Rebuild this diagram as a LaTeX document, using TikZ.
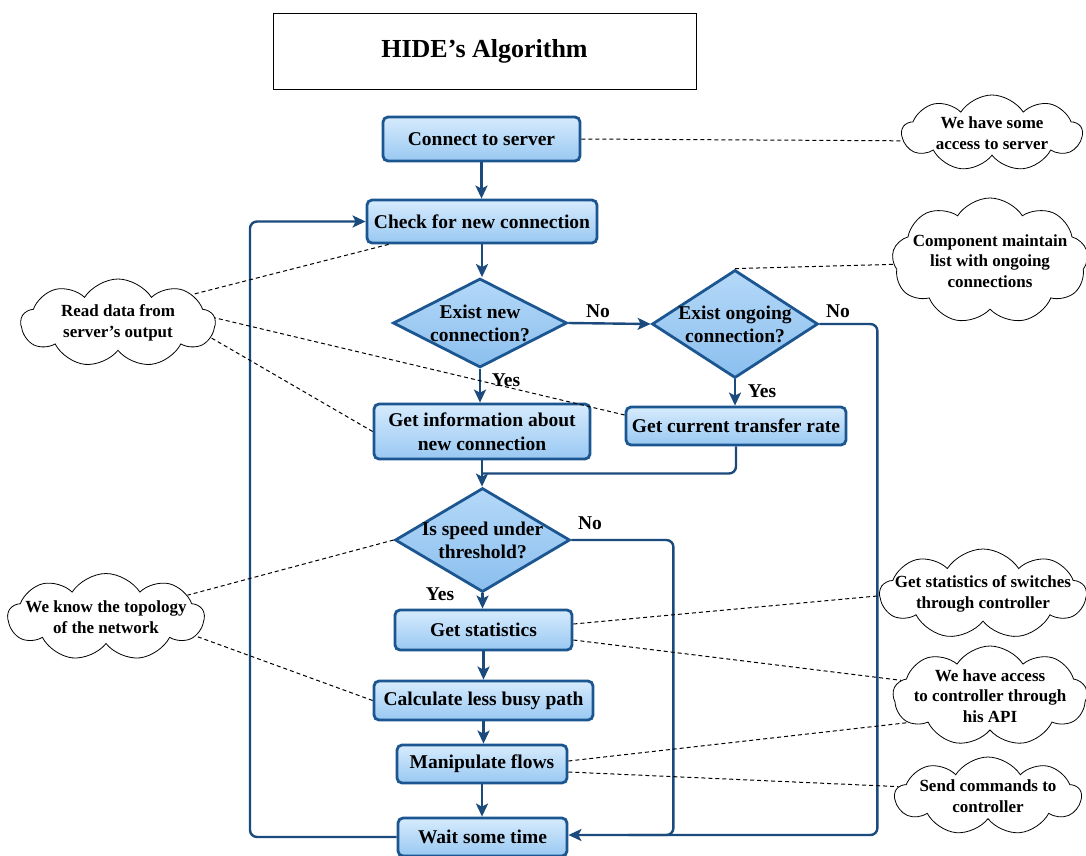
\documentclass[tikz,border=0pt]{standalone}
\usepackage{fontspec}
\setmainfont{Liberation Serif}
\usetikzlibrary{shapes.geometric,shapes.symbols,arrows.meta,calc}
\definecolor{edgeblue}{HTML}{1C5690}
\definecolor{flowblue}{HTML}{1B4B7C}
\definecolor{filltop}{HTML}{D6EBFD}
\definecolor{fillbot}{HTML}{99C8F2}
\definecolor{dectop}{HTML}{B4D8F8}
\definecolor{decbot}{HTML}{8BBFEE}
\begin{document}
\begin{tikzpicture}[x=1pt,y=-1pt,
  stepbox/.style={rectangle, rounded corners=5pt, draw=edgeblue, line width=2.8pt,
    top color=filltop, bottom color=fillbot, inner sep=0pt, align=center,
    font=\fontsize{19.5}{24}\selectfont\bfseries},
  decision/.style={diamond, draw=edgeblue, line width=2.8pt,
    top color=dectop, bottom color=decbot, inner sep=0pt},
  dectext/.style={font=\fontsize{19.5}{23}\selectfont\bfseries, align=center},
  note/.style={cloud, cloud puffs=9, cloud puff arc=115, cloud ignores aspect,
    draw=black, line width=0.8pt, fill=white, inner sep=0pt},
  notetext/.style={font=\fontsize{17}{20.5}\selectfont\bfseries, align=center},
  answer/.style={font=\fontsize{19.5}{23}\selectfont\bfseries, inner sep=0pt},
  tip/.style={-{Stealth[length=13pt,width=12pt,inset=3pt]}},
  go/.style={draw=flowblue, line width=2.4pt, tip},
  loopline/.style={draw=flowblue, line width=2.4pt, rounded corners=7pt},
  hint/.style={draw=black, line width=1pt, dash pattern=on 4pt off 3pt}]

\useasboundingbox (0,0) rectangle (1086,855);

% title
\node[draw=black, line width=0.8pt, minimum width=423pt, minimum height=76pt,
      font=\fontsize{26}{30}\selectfont\bfseries] (title) at (484.5,51) {HIDE's Algorithm};

% process steps
\node[stepbox, minimum width=197pt, minimum height=44pt] (connect) at (481.5,139) {Connect to server};
\node[stepbox, minimum width=230pt, minimum height=43pt] (check) at (482,221.5) {Check for new connection};
\node[decision, minimum width=174pt, minimum height=89pt,
      label={[dectext]center:Exist new\\connection?}] (d1) at (480,323) {};
\node[decision, minimum width=166pt, minimum height=108pt,
      label={[dectext]center:Exist ongoing\\connection?}] (d2) at (735,324) {};
\node[stepbox, minimum width=216pt, minimum height=55pt] (info) at (482,431.5) {Get information about\\new connection};
\node[stepbox, minimum width=220pt, minimum height=38pt] (rate) at (736,426) {Get current transfer rate};
\node[decision, minimum width=175pt, minimum height=104pt,
      label={[dectext]center:Is speed under\\threshold?}] (d3) at (482.5,540) {};
\node[stepbox, minimum width=177pt, minimum height=40pt] (stats) at (483.5,630) {Get statistics};
\node[stepbox, minimum width=219pt, minimum height=39pt] (calc) at (483.5,700.5) {Calculate less busy path};
\node[stepbox, minimum width=170pt, minimum height=38pt] (manip) at (482,764) {Manipulate flows};
\node[stepbox, minimum width=169pt, minimum height=38pt] (wait) at (482.5,837) {Wait some time};

% answers on the branches
\node[answer] (no1) at (598,311) {No};
\node[answer] (yes1) at (506,380) {Yes};
\node[answer] (no2) at (838,311) {No};
\node[answer] (yes2) at (762,391) {Yes};
\node[answer] (no3) at (590,523) {No};
\node[answer] (yes3) at (440,594) {Yes};

% remarks
\node[note, minimum width=180pt, minimum height=76pt,
      label={[notetext]center:We have some\\access to server}] (c1) at (992,133) {};
\node[note, minimum width=196pt, minimum height=126pt,
      label={[notetext]center:Component maintain\\list with ongoing\\connections}] (c2) at (990,261) {};
\node[note, minimum width=194pt, minimum height=88pt,
      label={[notetext]center:Read data from\\server's output}] (c3) at (118,323) {};
\node[note, minimum width=196pt, minimum height=87pt,
      label={[notetext]center:We know the topology\\of the network}] (c4) at (106,617) {};
\node[note, minimum width=206pt, minimum height=90pt,
      label={[notetext]center:Get statistics of switches\\through controller}] (c5) at (983,594) {};
\node[note, minimum width=194pt, minimum height=100pt,
      label={[notetext]center:We have access\\to controller through\\his API}] (c6) at (990,696) {};
\node[note, minimum width=186pt, minimum height=78pt,
      label={[notetext]center:Send commands to\\controller}] (c7) at (988,796) {};

% main flow
\draw[go] (connect.south) -- (connect.south |- check.north);
\draw[go] (check.south) -- (check.south |- d1.north);
\draw[go] (d1.east) -- (d2.west);
\draw[go] (d1.south) -- (d1.south |- info.north);
\draw[go] (d2.south) -- (d2.south |- rate.north);
\draw[go] (info.south) -- (info.south |- d3.north);
\draw[loopline] (rate.south) |- ($(info.south)!0.5!(info.south |- d3.north)$);
\draw[go] (d3.south) -- (d3.south |- stats.north);
\draw[go] (stats.south) -- (stats.south |- calc.north);
\draw[go] (calc.south) -- (calc.south |- manip.north);
\draw[go] (manip.south) -- (manip.south |- wait.north);

% return paths
\draw[loopline, tip] (wait.west) -| (250,221.5) -- (check.west);
\draw[loopline, tip] (d2.east) -| ($(wait.east)+(309,-2)$) -- ($(wait.east)+(0,-2)$);
\draw[loopline] (d3.east) -| ($(wait.east)+(105,-2)$) -- ($(wait.east)+(60,-2)$);

% remark links
\draw[hint] (connect.east) -- (c1.185);
\draw[hint] (d2.north) -- (c2.182);
\draw[hint] ([xshift=23pt]check.south west) -- (c3.21);
\draw[hint] ([yshift=11pt]rate.west) -- (c3.3);
\draw[hint] (info.west) -- (c3.-9);
\draw[hint] (d3.west) -- (c4.15);
\draw[hint] (calc.west) -- (c4.-12);
\draw[hint] ([yshift=6pt]stats.east) -- (c5.181);
\draw[hint] ([yshift=-10pt]stats.east) -- (c6.170);
\draw[hint] ([yshift=3pt]manip.east) -- (c6.198);
\draw[hint] ([yshift=-8pt]manip.east) -- (c7.174);
\end{tikzpicture}
\end{document}
